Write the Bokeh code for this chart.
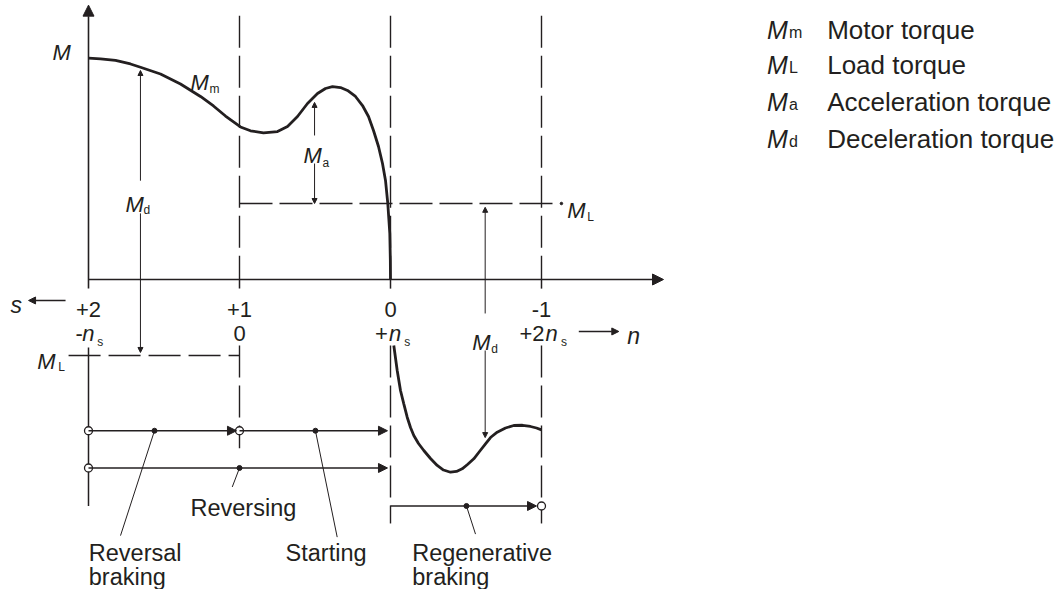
from bokeh.plotting import figure
from bokeh.models import Range1d, Label, Arrow, NormalHead
from bokeh.embed import file_html
from bokeh.resources import INLINE

# ---------------- data ----------------
# horizontal axis: speed n in units of synchronous speed n_s (slip s = 1 - n)
n_ticks = [-1, 0, 1, 2]
s_tick_labels = ["+2", "+1", "0", "-1"]
n_tick_labels = [("-", "n", "s"), ("0", "", ""), ("+", "n", "s"), ("+2", "n", "s")]

# load torque (units of M_L)
load_torque = 1.0

# motor torque curve M_m(n), motoring / reversal-braking region
motor_n = [-1.0, -0.9205, -0.8212, -0.7219, -0.6556, -0.5232, -0.3907, -0.2583,
           -0.1722, -0.0927, 0.0066, 0.0728, 0.1589, 0.2517, 0.3179, 0.3841,
           0.4503, 0.5166, 0.5695, 0.6159, 0.6689, 0.7152, 0.7682, 0.8146,
           0.8543, 0.8874, 0.9205, 0.9470, 0.9669, 0.9821, 0.9954, 0.999, 1.0]
motor_M = [2.912, 2.904, 2.882, 2.836, 2.793, 2.704, 2.572, 2.408,
           2.283, 2.151, 2.007, 1.957, 1.930, 1.947, 2.013, 2.145,
           2.316, 2.447, 2.513, 2.539, 2.526, 2.487, 2.408, 2.289,
           2.145, 1.961, 1.750, 1.526, 1.303, 1.000, 0.605, 0.25, 0.0]

# generator torque curve, regenerative braking region
regen_n = [1.0219, 1.0444, 1.0662, 1.0881, 1.1106, 1.1325, 1.1543, 1.1854,
           1.2205, 1.2649, 1.3093, 1.3510, 1.3974, 1.4371, 1.4748, 1.5099,
           1.5517, 1.5894, 1.6291, 1.6623, 1.7066, 1.7616, 1.8166, 1.8742,
           1.9272, 1.9669, 2.0]
regen_M = [-0.868, -1.197, -1.461, -1.636, -1.812, -1.947, -2.053, -2.158,
           -2.250, -2.355, -2.447, -2.507, -2.536, -2.526, -2.491, -2.434,
           -2.359, -2.263, -2.162, -2.079, -2.009, -1.954, -1.921, -1.918,
           -1.934, -1.954, -1.978]

# operating ranges (from n, to n) drawn as arrows below the diagram
reversal_braking = (-1, 0)
starting = (0, 1)
reversing = (-1, 1)
regenerative_braking = (1, 2)

legend_subs = ["m", "L", "a", "d"]
legend_texts = ["Motor torque", "Load torque", "Acceleration torque", "Deceleration torque"]

# ---------------- styling ----------------
INK = "#231f20"
FONT = "Liberation Sans"
PX_N = 151.0   # pixels per unit of n
PX_M = 76.0    # pixels per unit of torque

W, H = 1060, 589
x_left = -1 - 88 / PX_N
y_top = 279 / PX_M
p = figure(width=W, height=H, output_backend="svg", toolbar_location=None,
           x_range=Range1d(x_left, x_left + W / PX_N),
           y_range=Range1d(y_top - H / PX_M, y_top),
           x_axis_type=None, y_axis_type=None, min_border=0)
p.grid.visible = False
p.outline_line_color = None
p.background_fill_color = "white"
p.border_fill_color = "white"


def put(x, y, t, size, italic=False, align="left"):
    p.add_layout(Label(x=x, y=y, text=t, text_font=FONT,
                       text_font_size=f"{size}px",
                       text_font_style="italic" if italic else "normal",
                       text_align=align, text_baseline="alphabetic",
                       text_color=INK))


def arrow(x0, y0, x1, y1, size=10, lw=1.5):
    p.add_layout(Arrow(x_start=x0, y_start=y0, x_end=x1, y_end=y1,
                       line_color=INK, line_width=lw,
                       end=NormalHead(size=size, fill_color=INK, line_color=INK, line_width=1)))


def sym(x, y, sub, dx_px=19, dy_px=6, size=22, subsize=12):
    put(x, y, "M", size, italic=True)
    put(x + dx_px / PX_N, y - dy_px / PX_M, sub, subsize)


# ---------------- axes ----------------
n_min, n_max = n_ticks[0], n_ticks[-1]
arrow(n_min, 0, n_max + 0.808, 0, size=11, lw=1.6)           # n axis
arrow(n_min, -0.12, n_min, 3.61, size=11, lw=1.6)            # M axis
p.segment(x0=[n_min], y0=[-0.895], x1=[n_min], y1=[-2.98], line_color=INK, line_width=1.5)

# dashed verticals above axis and short ticks below it
for nt in n_ticks[1:]:
    p.line([nt, nt], [3.47, 0], line_color=INK, line_width=1.4, line_dash="32 8")
    p.segment(x0=[nt], y0=[0], x1=[nt], y1=[-0.12], line_color=INK, line_width=1.5)
# dashed verticals below
p.line([0, 0], [-0.87, -2.22], line_color=INK, line_width=1.4, line_dash="32 8")
for nt in n_ticks[2:]:
    p.line([nt, nt], [-0.87, -3.21], line_color=INK, line_width=1.4, line_dash="32 8")

# load torque lines
p.line([0, 2.079], [load_torque, load_torque], line_color=INK, line_width=1.4, line_dash="33 7")
p.scatter([2.132], [load_torque], size=2.5, color=INK)
p.line([-1.132, 0], [-load_torque, -load_torque], line_color=INK, line_width=1.4, line_dash="32 8")

# torque curves
p.line(motor_n, motor_M, line_color=INK, line_width=2.8)
p.line(regen_n, regen_M, line_color=INK, line_width=2.8)

# torque difference arrows
arrow(0.497, 1.895, 0.497, 2.33, size=5, lw=1)
arrow(0.497, 1.526, 0.497, load_torque, size=5, lw=1)
arrow(-0.656, 1.30, -0.656, 2.75, size=5, lw=1)
arrow(-0.656, 0.87, -0.656, -load_torque + 0.04, size=5, lw=1)
arrow(1.627, -0.447, 1.627, load_torque - 0.05, size=5, lw=1)
arrow(1.627, -0.934, 1.627, -2.08, size=5, lw=1)

# ---------------- operating range arrows ----------------
r1, r2, r3 = -1.99, -2.48, -2.98
arrow(reversal_braking[0], r1, reversal_braking[1] - 0.02, r1, size=9, lw=1.5)
arrow(starting[0], r1, starting[1] - 0.02, r1, size=9, lw=1.5)
arrow(reversing[0], r2, reversing[1] - 0.02, r2, size=9, lw=1.5)
arrow(regenerative_braking[0], r3, regenerative_braking[1] - 0.033, r3, size=9, lw=1.5)
p.scatter([reversal_braking[0], reversal_braking[1], reversing[0], regenerative_braking[1]],
          [r1, r1, r2, r3], size=8, fill_color="white", line_color=INK, line_width=1.3)
dots_n = [-0.563, 0.503, 0.0, 1.503]
dots_M = [r1, r1, r2, r3]
p.scatter(dots_n, dots_M, size=5, color=INK)
p.segment(x0=dots_n, y0=dots_M, x1=[-0.788, 0.647, -0.048, 1.563], y1=[-3.37, -3.39, -2.73, -3.35],
          line_color=INK, line_width=1)

# ---------------- labels ----------------
put(-1.238, 2.987, "M", 22, italic=True)
sym(-0.325, 2.592, "m")
sym(0.424, 1.632, "a", dy_px=8)
sym(-0.755, 0.987, "d", dx_px=18)
sym(2.170, 0.908, "L", dx_px=20, dy_px=7)
sym(1.541, -0.825, "d", dy_px=7)
sym(-1.340, -1.075, "L", dx_px=21)

# slip axis label and arrow
put(-1.517, -0.342, "s", 23, italic=True)
arrow(-1.152, -0.276, -1.397, -0.276, size=7, lw=1.3)
for nt, lab in zip(n_ticks, s_tick_labels):
    put(nt, -0.40, lab, 22, align="center")

# speed tick labels (pixel offsets of prefix, italic n and subscript from the tick)
offsets = {"-": (-13, -6.3, 8.7), "+": (-15.5, -1.5, 13.8), "+2": (-22, 4, 19.5)}
for nt, (pre, it, sub) in zip(n_ticks, n_tick_labels):
    if not it:
        put(nt, -0.714, pre, 22, align="center")
        continue
    a, b, c = offsets[pre]
    put(nt + a / PX_N, -0.714, pre, 22)
    put(nt + b / PX_N, -0.714, it, 22, italic=True)
    put(nt + c / PX_N, -0.825, sub, 12)
arrow(2.247, -0.684, 2.512, -0.684, size=7, lw=1.3)
put(2.568, -0.737, "n", 23, italic=True)

# operating range names
put(-0.3245, -3.013, "Reversing", 23.5)
put(-0.998, -3.60, "Reversal", 23.5)
put(-0.998, -3.92, "braking", 23.5)
put(0.305, -3.60, "Starting", 23.5)
put(1.144, -3.60, "Regenerative", 23.5)
put(1.144, -3.92, "braking", 23.5)

# legend
leg_base = [3.2855, 2.8158, 2.333, 1.851]
for yb, sub, txt in zip(leg_base, legend_subs, legend_texts):
    put(3.4927, yb, "M", 25, italic=True)
    put(3.4927 + 22 / PX_N, yb - 2.5 / PX_M, sub, 16)
    put(3.892, yb, txt, 26)

open("out.html", "w").write(file_html(p, INLINE))
